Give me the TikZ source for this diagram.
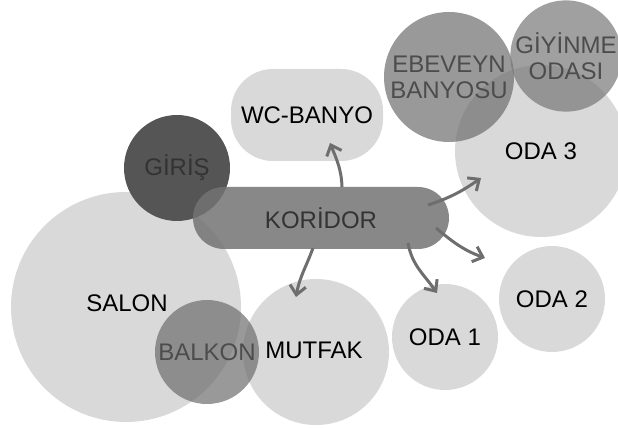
\documentclass[tikz,border=0pt]{standalone}
\usepackage{fontspec}
\setmainfont{Liberation Sans}
\usetikzlibrary{arrows.meta,calc}
\definecolor{lightc}{gray}{0.85}
\definecolor{ebc}{gray}{0.43}
\definecolor{giyc}{gray}{0.47}
\definecolor{balc}{gray}{0.43}
\definecolor{korc}{gray}{0.45}
\definecolor{girc}{gray}{0.335}
\definecolor{arrc}{gray}{0.43}
\definecolor{dtext}{gray}{0.2}
\definecolor{mtext}{gray}{0.3}
\tikzset{
  room/.style={circle, inner sep=0pt, draw=none, fill=lightc, text=black,
    font=\fontsize{24}{26}\selectfont, align=center},
  midroom/.style={room, fill opacity=0.7, text opacity=1, text=mtext},
  conn/.style={draw=arrc, line width=3pt,
    -{Straight Barb[length=9pt,width=16pt]}},
}
\begin{document}
\begin{tikzpicture}[x=1pt,y=1pt]
\useasboundingbox (0,0) rectangle (618,428);
\node[room, minimum size=230] (salon) at (126,121) {};
\node[font=\fontsize{24}{26}\selectfont] (salont) at (127,125) {SALON};
\node[room, minimum size=146] (mutfak) at (316,76) {};
\node[midroom, fill=balc, minimum size=104] (balkon) at (207,76) {BALKON};
\node[font=\fontsize{24}{26}\selectfont] (mutfakt) at (314,78) {MUTFAK};
\node[room, fill=girc, text=dtext, minimum size=106] (giris) at (177,260) {GİRİŞ};
\node[room, rectangle, fill=korc, fill opacity=0.85, text opacity=1, text=dtext,
  rounded corners=31pt, minimum width=256, minimum height=62] (koridor) at (321,210) {KORİDOR};
\node[room, rectangle, rounded corners=42pt, minimum width=152, minimum height=92]
  (wc) at (307,313) {WC-BANYO};
\node[room, minimum size=172] (oda3) at (541,277) {ODA 3};
\node[midroom, fill=ebc, minimum size=130] (ebeveyn) at (449,351) {EBEVEYN\\BANYOSU};
\node[midroom, fill=giyc, minimum size=105] (giyinme) at (566,372) {GİYİNME\\ODASI};
\node[room, minimum size=106] (oda1) at (445,91) {ODA 1};
\node[room, minimum size=106] (oda2) at (552,129) {ODA 2};
% connector end points
\coordinate (k1) at ($(koridor.center)+(21,31)$);
\coordinate (k2) at ($(koridor.center)+(107,13)$);
\coordinate (k3) at ($(koridor.center)+(115,-10)$);
\coordinate (k4) at ($(koridor.center)+(87,-25)$);
\coordinate (k5) at ($(koridor.center)+(-8,-30)$);
\coordinate (w1) at ($(wc.center)+(23,-28)$);
\coordinate (o3) at ($(oda3.center)+(-60,-27)$);
\coordinate (o2) at ($(oda2.center)+(-67,41)$);
\coordinate (o1) at ($(oda1.center)+(-8,44)$);
\coordinate (m1) at ($(mutfak.center)+(-20,55)$);
\draw[conn] (k1) to[out=92,in=-68] (w1);
\draw[conn] (k2) to[out=18,in=215] (o3);
\draw[conn] (k3) to[out=-40,in=160] (o2);
\draw[conn] (k4) to[out=-80,in=125] (o1);
\draw[conn] (k5) to[out=-110,in=80] (m1);
\end{tikzpicture}
\end{document}
